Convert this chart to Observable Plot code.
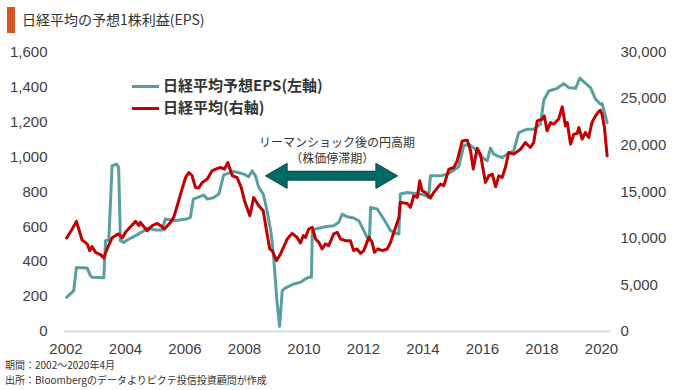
<!DOCTYPE html>
<html><head><meta charset="utf-8">
<script src="https://cdn.jsdelivr.net/npm/d3@7"></script>
<script src="https://cdn.jsdelivr.net/npm/@observablehq/plot@0.6"></script>
<style>
body{margin:0;background:#fff;font-family:"Liberation Sans","Noto Sans CJK JP",sans-serif;}
#wrap{position:relative;width:680px;height:390px;overflow:hidden;}
#title{height:30px;position:relative;}
#title .bar{position:absolute;left:7px;top:7px;width:8px;height:26px;background:#d9541e;}
#title .t{position:absolute;left:22px;top:10px;font-size:14px;line-height:18px;color:#333;font-family:"Noto Sans CJK JP",sans-serif;}
.leg{position:absolute;left:132px;font-size:15px;font-weight:bold;color:#333;line-height:20px;font-family:"Noto Sans CJK JP",sans-serif;white-space:nowrap;}
.leg i{display:inline-block;width:27px;height:3px;vertical-align:middle;margin-right:4px;}
.foot{position:absolute;left:5px;font-size:10px;line-height:14px;color:#333;font-family:"Noto Sans CJK JP",sans-serif;white-space:nowrap;}
svg{display:block;}
</style></head>
<body>
<div id="wrap">
  <div id="title"><div class="bar"></div><div class="t">日経平均の予想1株利益(EPS)</div></div>
  <div id="chart"></div>
  <div class="leg" style="top:75px"><i style="background:#5b9ea0"></i>日経平均予想EPS(左軸)</div>
  <div class="leg" style="top:97px"><i style="background:#c00000"></i>日経平均(右軸)</div>
  <div class="foot" style="top:358px">期間：2002～2020年4月</div>
  <div class="foot" style="top:373px">出所：Bloombergのデータよりピクテ投信投資顧問が作成</div>
</div>
<script>
// EPS (left axis) [year, value]
const epsSeries = [
[2002.02,196],[2002.21,225],[2002.26,234],[2002.35,367],[2002.71,364],[2002.82,320],[2002.88,310],
[2003.27,307],[2003.33,520],[2003.44,524],[2003.55,949],[2003.70,958],[2003.77,939],[2003.83,520],
[2003.94,510],[2004.06,524],[2004.34,549],[2004.62,577],[2004.73,592],[2005.01,581],[2005.23,581],
[2005.34,644],[2005.62,634],[2006.07,644],[2006.18,653],[2006.28,758],[2006.63,781],[2006.75,758],
[2006.97,767],[2007.14,787],[2007.25,863],[2007.30,897],[2007.64,916],[2007.98,901],[2008.14,886],
[2008.26,920],[2008.37,891],[2008.48,825],[2008.63,787],[2008.76,691],[2008.90,558],[2008.98,425],
[2009.10,158],[2009.18,29],[2009.27,234],[2009.38,250],[2009.66,272],[2009.88,282],[2010.05,301],
[2010.16,310],[2010.25,310],[2010.28,577],[2010.39,587],[2010.72,600],[2011.00,606],[2011.17,625],
[2011.28,672],[2011.45,657],[2011.67,650],[2011.84,634],[2011.96,596],[2012.12,539],[2012.20,530],
[2012.24,710],[2012.46,701],[2012.68,644],[2012.91,577],[2013.08,562],[2013.19,558],[2013.24,787],
[2013.47,796],[2013.75,790],[2014.03,783],[2014.19,767],[2014.25,891],[2014.59,891],[2014.81,901],
[2015.04,924],[2015.20,943],[2015.37,1063],[2015.54,1072],[2015.71,1050],[2015.99,996],[2016.16,977],
[2016.27,1050],[2016.38,1015],[2016.49,1006],[2016.66,996],[2016.83,1015],[2017.05,1034],[2017.22,1139],
[2017.50,1158],[2017.72,1158],[2017.95,1187],[2018.06,1324],[2018.23,1377],[2018.51,1392],[2018.73,1419],
[2018.90,1396],[2019.13,1392],[2019.27,1450],[2019.40,1430],[2019.63,1396],[2019.80,1330],[2019.97,1301],
[2020.02,1305],[2020.19,1196]
];
// Nikkei 225 (right axis) [year, value]
const nikkeiSeries = [
[2002.02,10040],[2002.21,11000],[2002.35,11820],[2002.43,11000],[2002.54,9820],[2002.71,9400],[2002.80,8680],
[2002.88,9110],[2002.99,8500],[2003.16,8250],[2003.27,7900],[2003.38,8860],[2003.55,10040],[2003.66,10290],
[2003.77,10470],[2003.89,10040],[2004.00,10640],[2004.17,11250],[2004.34,11820],[2004.45,11360],[2004.50,11710],
[2004.73,10820],[2004.90,11360],[2005.07,11600],[2005.18,11360],[2005.31,11000],[2005.51,11710],[2005.62,12250],
[2005.74,13500],[2005.85,14750],[2006.02,16530],[2006.13,17070],[2006.24,16710],[2006.35,15460],[2006.46,15400],
[2006.58,16000],[2006.75,16360],[2006.91,17250],[2007.03,17430],[2007.19,17600],[2007.33,17430],[2007.44,18140],
[2007.59,16710],[2007.75,16530],[2007.89,15460],[2008.00,14040],[2008.18,12430],[2008.31,14390],[2008.48,13500],
[2008.63,12960],[2008.76,10470],[2008.85,8860],[2008.93,8680],[2009.08,7610],[2009.21,8320],[2009.44,9930],
[2009.60,10530],[2009.77,10100],[2009.88,9500],[2009.98,10300],[2010.05,10100],[2010.16,11000],[2010.28,11180],
[2010.39,9930],[2010.50,9570],[2010.61,8860],[2010.72,9400],[2010.83,9210],[2011.00,10470],[2011.12,10640],
[2011.23,9930],[2011.39,9750],[2011.56,9750],[2011.67,8680],[2011.78,8860],[2011.90,8390],[2012.01,8680],
[2012.18,10100],[2012.29,9570],[2012.37,8500],[2012.48,8860],[2012.63,8680],[2012.80,8860],[2012.91,9570],
[2013.08,11180],[2013.19,12250],[2013.24,13860],[2013.47,13750],[2013.58,13320],[2013.69,14570],[2013.81,14390],
[2013.89,16180],[2013.97,15110],[2014.08,14930],[2014.25,14320],[2014.36,14930],[2014.59,15820],[2014.70,15640],
[2014.87,17430],[2015.04,17600],[2015.15,18320],[2015.32,20460],[2015.49,20540],[2015.60,19390],[2015.69,17430],
[2015.82,19680],[2015.93,19040],[2016.10,16000],[2016.21,16710],[2016.33,16900],[2016.44,15540],[2016.55,16710],
[2016.66,16530],[2016.77,17600],[2016.88,19210],[2017.05,19040],[2017.28,19570],[2017.44,20280],[2017.61,19750],
[2017.72,20280],[2017.84,22600],[2018.01,22790],[2018.08,23140],[2018.17,21540],[2018.29,22430],[2018.39,22250],
[2018.56,22790],[2018.68,24110],[2018.79,22070],[2018.85,22430],[2018.96,20110],[2019.07,21180],[2019.18,21250],
[2019.24,21890],[2019.35,20640],[2019.46,21360],[2019.57,20820],[2019.68,22430],[2019.80,23140],[2019.91,23600],
[2019.96,23750],[2020.02,23320],[2020.10,21890],[2020.19,18860]
];
const xTicks = [2002,2004,2006,2008,2010,2012,2014,2016,2018,2020];
const leftTicks = [0,200,400,600,800,1000,1200,1400,1600];
const rightTicks = [0,5000,10000,15000,20000,25000,30000];
const annotationLines = [
  {text: "リーマンショック後の円高期", x: 2011.11, y: 1080},
  {text: "（株価停滞期）", x: 2010.95, y: 988}
];
const arrowSpan = [2009.19, 2012.66]; // arrow head centres (years)
const arrowLevel = 891;

const k = 1600 / 30000;
const fmt = d3.format(",");

const chart = Plot.plot({
  width: 680, height: 330,
  marginLeft: 64, marginRight: 70.1, marginTop: 21.5, marginBottom: 29,
  x: {domain: [2001.95, 2020.3], label: null},
  y: {domain: [0, 1600], label: null},
  style: {fontSize: "15px", fontFamily: "'Liberation Sans', sans-serif", color: "#404040", background: "white"},
  marks: [
    Plot.ruleY([0], {stroke: "#d9d9d9", strokeWidth: 2}),
    Plot.axisX({ticks: xTicks, tickFormat: d => String(d), tickSize: 0, tickPadding: 12}),
    Plot.axisY({anchor: "left", ticks: leftTicks, tickFormat: fmt, tickSize: 0, tickPadding: 17}),
    Plot.axisY({anchor: "right", ticks: rightTicks.map(v => v * k), tickFormat: d => fmt(Math.round(d / k)), tickSize: 0, tickPadding: 10}),
    Plot.line(epsSeries, {x: d => d[0], y: d => d[1], stroke: "#5b9ea0", strokeWidth: 3, strokeLinejoin: "round"}),
    Plot.line(nikkeiSeries, {x: d => d[0], y: d => d[1] * k, stroke: "#c00000", strokeWidth: 3, strokeLinejoin: "round"}),
    Plot.ruleY([arrowLevel], {x1: arrowSpan[0], x2: arrowSpan[1], stroke: "#0a4a46", strokeWidth: 10}),
    Plot.dot([arrowSpan[0]], {x: d => d, y: arrowLevel, symbol: "triangle", r: 9.3, rotate: -90, fill: "#006a64", stroke: "#0a4a46", strokeWidth: 1}),
    Plot.dot([arrowSpan[1]], {x: d => d, y: arrowLevel, symbol: "triangle", r: 9.3, rotate: 90, fill: "#006a64", stroke: "#0a4a46", strokeWidth: 1}),
    Plot.ruleY([arrowLevel], {x1: arrowSpan[0] + 0.1, x2: arrowSpan[1] - 0.1, stroke: "#006a64", strokeWidth: 8}),
    Plot.text(annotationLines, {x: "x", y: "y", text: "text", fontSize: 12, lineHeight: 1, fill: "#333", fontFamily: "'Noto Sans CJK JP', sans-serif"})
  ]
});
document.getElementById("chart").appendChild(chart);
</script>
</body></html>
